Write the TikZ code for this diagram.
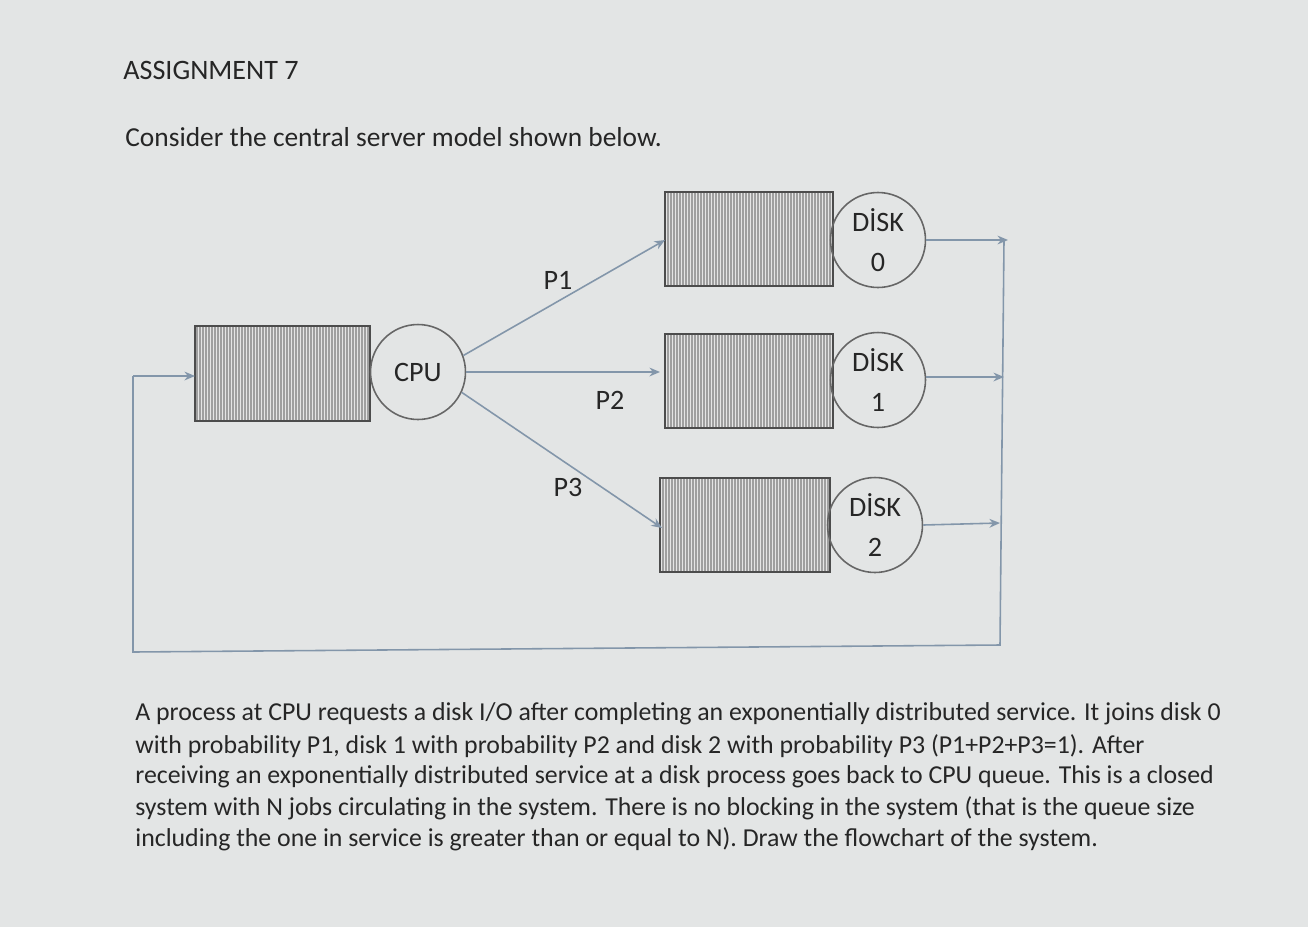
\documentclass[tikz,border=0pt]{standalone}
\usepackage{fontspec}
\setmainfont{Carlito}
\usetikzlibrary{arrows.meta}
\definecolor{bg}{HTML}{E3E5E5}
\definecolor{ln}{HTML}{8396AA}
\definecolor{tx}{HTML}{262626}
\tikzset{
  conn/.style={draw=ln, line width=0.9pt},
  arr/.style={conn, -{Stealth[length=6pt,width=5pt]}},
  srv/.style={circle, draw=gray!80!black, line width=0.9pt, minimum size=1.9cm, inner sep=0pt, align=center, text=tx, font=\fontsize{16}{19}\selectfont},
  lbl/.style={text=tx, font=\fontsize{16}{19}\selectfont},
  para/.style={text=tx, anchor=west, font=\fontsize{14.7}{17}\selectfont, inner sep=0pt}
}
\begin{document}
\begin{tikzpicture}[x=0.02cm,y=-0.02cm]
\fill[bg] (0,0) rectangle (1308,927);
\node[text=tx, anchor=west, inner sep=0pt, font=\fontsize{16}{19}\selectfont] (title) at (123,70) {ASSIGNMENT 7};
\node[text=tx, anchor=west, inner sep=0pt, font=\fontsize{15.6}{19}\selectfont] (intro) at (125,137) {Consider the central server model shown below.};
% queues
\fill[gray!75] (195,326) rectangle (370,421);
\foreach \xx in {198,201,...,368} \draw[white!80!gray, line width=0.5pt] (\xx,326) -- (\xx,421);
\draw[gray!60!black, line width=0.8pt] (195,326) rectangle (370,421);
\foreach \yy/\xa/\xb in {192/665/833, 334/665/833, 478/660/830}{
  \fill[gray!75] (\xa,\yy) rectangle (\xb,\yy+94);
  \foreach \xx in {\xa,...,\xb}{\pgfmathparse{mod(\xx-\xa,3)==1}\ifnum\pgfmathresult=1 \draw[white!80!gray, line width=0.5pt] (\xx,\yy) -- (\xx,\yy+94);\fi}
  \draw[gray!60!black, line width=0.8pt] (\xa,\yy) rectangle (\xb,\yy+94);
}
\coordinate (cq) at (195,376);
\coordinate (q0) at (665,240);
\coordinate (q1) at (660,372);
\coordinate (q2) at (662,528);
\node[srv] (cpu) at (418,372) {CPU};
\node[srv] (d0) at (878,240) {DİSK\\[4pt]0};
\node[srv] (d1) at (878,380) {DİSK\\[4pt]1};
\node[srv] (d2) at (875,525) {DİSK\\[4pt]2};
\draw[arr] (cpu.20) -- (q0);
\draw[arr] (cpu.east) -- (q1);
\draw[arr] (cpu.-25) -- (q2);
\node[lbl] (p1) at (558,280) {P1};
\node[lbl] (p2) at (610,400) {P2};
\node[lbl] (p3) at (568,487) {P3};
\coordinate (o0) at (1008,240);
\coordinate (o1) at (1004,377);
\coordinate (o2) at (1000,523);
\draw[arr] (d0.east) -- (o0);
\draw[arr] (d1.east |- o1) -- (o1);
\draw[arr] (d2.east) -- (o2);
\coordinate (br) at (1000,645);
\coordinate (bl) at (133,652);
\coordinate (tl) at (133,376);
\draw[conn] (1004,240) -- (br) -- (bl) -- (tl);
\draw[arr] (tl) -- (cq);
% paragraph
\node[para] (l1) at (135,714) {A process at CPU requests a disk I/O after completing an exponentially distributed service. It joins disk 0};
\node[para] (l2) at (135,746) {with probability P1, disk 1 with probability P2 and disk 2 with probability P3 (P1+P2+P3=1). After};
\node[para] (l3) at (135,777) {receiving an exponentially distributed service at a disk process goes back to CPU queue. This is a closed};
\node[para] (l4) at (135,808) {system with N jobs circulating in the system. There is no blocking in the system (that is the queue size};
\node[para] (l5) at (135,839) {including the one in service is greater than or equal to N). Draw the flowchart of the system.};
\end{tikzpicture}
\end{document}
